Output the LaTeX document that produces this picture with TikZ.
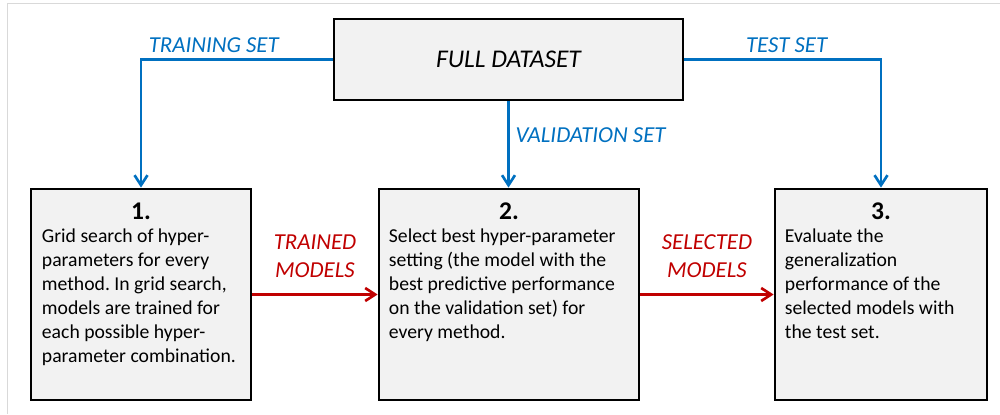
\documentclass[tikz,border=0pt]{standalone}
\usepackage{fontspec}
\setmainfont{Carlito}
\usetikzlibrary{positioning,arrows.meta}
\definecolor{setblue}{RGB}{0,112,192}
\definecolor{modelred}{RGB}{192,0,0}
\definecolor{boxgray}{RGB}{242,242,242}
\definecolor{framegray}{RGB}{217,217,217}
\frenchspacing

\begin{document}
\begin{tikzpicture}[>={Straight Barb[length=2mm,width=2.6mm]},
	stepbox/.style={draw, fill=boxgray, line width=1.6pt, minimum height=4.22cm, inner sep=0pt},
	settext/.style={text=setblue, font=\fontsize{13}{15.5}\selectfont\itshape},
	modeltext/.style={text=modelred, font=\fontsize{13}{15.5}\selectfont\itshape, align=center, inner sep=0pt},
	setarrow/.style={->, setblue, line width=1.5pt},
	modelarrow/.style={->, modelred, line width=1.5pt},
	numtext/.style={font=\fontsize{14.5}{16}\selectfont\bfseries, inner sep=0pt},
	steptext/.style={font=\fontsize{11.2}{13.6}\selectfont, align=left, inner sep=0pt}]

	\useasboundingbox (0,0) rectangle (20,8.28);
	\draw[framegray, line width=0.5pt] (0.14,0) -- (0.14,8.22) -- (20,8.22);

	% dataset and the three steps
	\node [stepbox, minimum width=6.98cm, minimum height=1.62cm, font=\fontsize{14.5}{16}\selectfont\itshape] (full) at (10.17,7.09) {FULL DATASET};
	\node [stepbox, minimum width=4.4cm] (box1) at (2.82,2.39) {};
	\node [stepbox, minimum width=5.2cm] (box2) at (10.18,2.39) {};
	\node [stepbox, minimum width=4.24cm] (box3) at (17.62,2.39) {};

	\node [numtext, below=0.3cm of box1.north] (num1) {1.};
	\node [numtext, below=0.3cm of box2.north] (num2) {2.};
	\node [numtext, below=0.3cm of box3.north] (num3) {3.};

	\node [steptext, below right=0.82cm and 0.24cm of box1.north west] (text1) {Grid search of hyper-\\parameters for every\\method. In grid search,\\models are trained for\\each possible hyper-\\parameter combination.};
	\node [steptext, below right=0.82cm and 0.22cm of box2.north west] (text2) {Select best hyper-parameter\\setting (the model with the\\best predictive performance\\on the validation set) for\\every method.};
	\node [steptext, below right=0.82cm and 0.22cm of box3.north west] (text3) {Evaluate the\\generalization\\performance of the\\selected models with\\the test set.};

	% splits of the data
	\draw [setarrow] (full.west) -| node [settext, above, pos=0.31] {TRAINING SET} (box1.north);
	\draw [setarrow] (full.east) -| node [settext, above, pos=0.26] {TEST SET} (box3.north);
	\draw [setarrow] (full.south) -- node [settext, right, pos=0.39] {VALIDATION SET} (full.south |- box2.north);

	% models passed on
	\draw [modelarrow] (box1) -- node [modeltext, above=0.32cm] {TRAINED\\MODELS} (box2);
	\draw [modelarrow] (box2) -- node [modeltext, above=0.32cm] {SELECTED\\MODELS} (box3);
\end{tikzpicture}
\end{document}
